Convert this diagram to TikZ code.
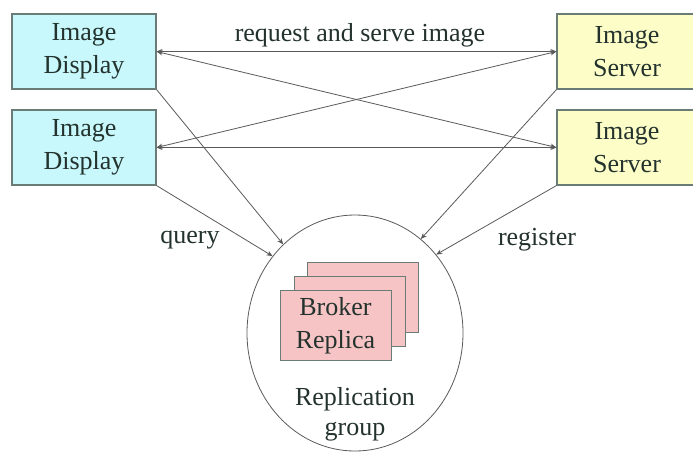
\documentclass[tikz,border=0pt]{standalone}
\usepackage{fontspec}
\setmainfont{Liberation Serif}
\newfontfamily\figfont{Liberation Serif}
\usetikzlibrary{shapes.geometric,arrows.meta}
\definecolor{dispfill}{RGB}{200,248,252}
\definecolor{servfill}{RGB}{253,253,200}
\definecolor{brokfill}{RGB}{246,196,196}
\definecolor{edgegray}{RGB}{105,125,118}
\definecolor{linegray}{RGB}{90,90,90}
\definecolor{txt}{RGB}{35,50,45}
\tikzset{
  figtext/.style={font=\figfont\fontsize{26}{33}\selectfont, text=txt},
  box/.style={figtext, draw=edgegray, line width=1.1pt, minimum width=144pt, minimum height=75pt,
    inner sep=0pt, align=center},
  dispbox/.style={box, fill=dispfill},
  servbox/.style={box, fill=servfill},
  brokbox/.style={figtext, draw=edgegray, line width=0.9pt, fill=brokfill, minimum width=111pt,
    minimum height=70pt, inner sep=0pt, align=center},
  conn/.style={draw=linegray, line width=0.8pt, -{Stealth[length=6pt,width=5pt]}},
  biconn/.style={draw=linegray, line width=0.8pt, {Stealth[length=6pt,width=5pt]}-{Stealth[length=6pt,width=5pt]}},
  lbl/.style={figtext, align=center, inner sep=0pt}
}
\begin{document}
\begin{tikzpicture}[x=1pt,y=-1pt]
  \path[use as bounding box, fill=white] (0,0) rectangle (693,453);

  % clients and servers
  \node[dispbox] (d1) at (84,51.5) {Image\\Display};
  \node[dispbox] (d2) at (84,147.5) {Image\\Display};
  \node[servbox, minimum width=140pt] (s1) at (627,51.5) {Image\\Server};
  \node[servbox, minimum width=140pt] (s2) at (627,147.5) {Image\\Server};

  % replication group
  \node[draw=linegray, line width=0.8pt, ellipse, minimum width=216pt, minimum height=236pt,
    inner sep=0pt] (grp) at (355,333) {};
  \node[brokbox] (b3) at (363,297) {};
  \node[brokbox] (b2) at (349.5,311.5) {};
  \node[brokbox] (b1) at (335.5,325.5) {Broker\\Replica};
  \node[lbl] (grplbl) at (355,414) {Replication\\[-3pt]group};

  % request and serve image
  \draw[biconn] (d1.east) -- (s1.west);
  \draw[biconn] (d2.east) -- (s2.west);
  \draw[biconn] (d1.east) -- (s2.west);
  \draw[biconn] (d2.east) -- (s1.west);
  \node[lbl] (req) at (360,35) {request and serve image};

  % query and register
  \draw[conn] (d1.south east) -- (grp.129);
  \draw[conn] (d2.south east) -- (grp.137);
  \draw[conn] (s1.south west) -- (grp.55);
  \draw[conn] (s2.south west) -- (grp.44);
  \node[lbl] (query) at (190,240) {query};
  \node[lbl] (register) at (537,240) {register};
\end{tikzpicture}
\end{document}
